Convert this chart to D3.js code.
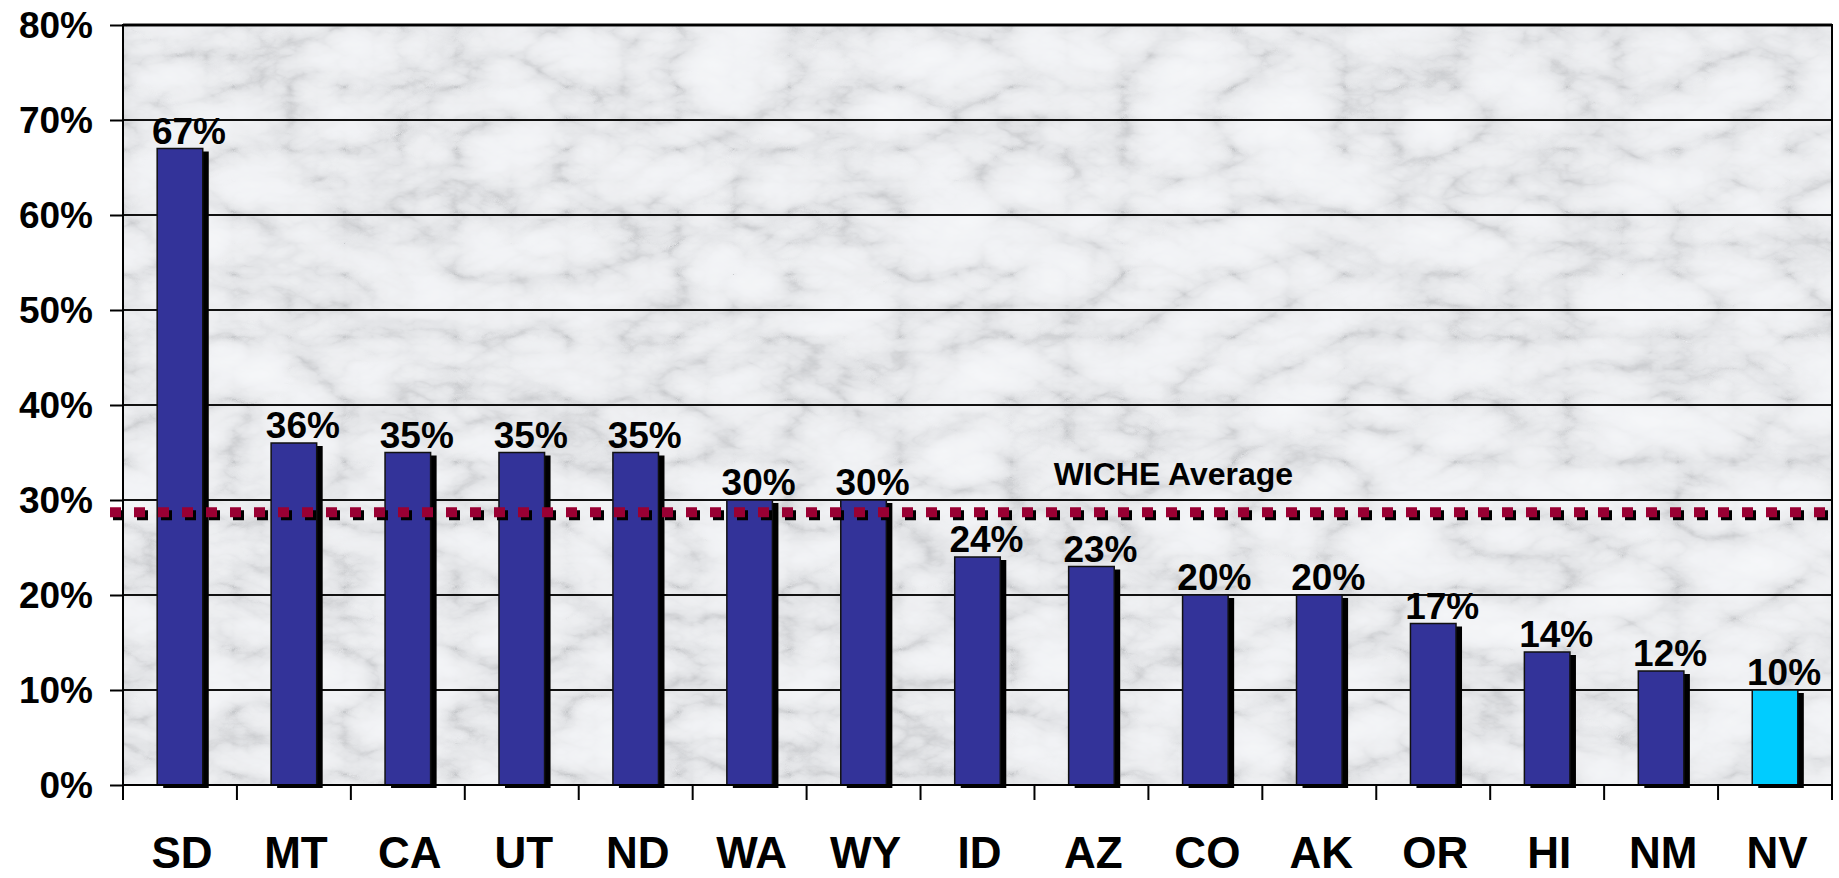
<!DOCTYPE html>
<html>
<head>
<meta charset="utf-8">
<script src="https://cdn.jsdelivr.net/npm/d3@7"></script>
<style>
  body { margin: 0; background: #ffffff; }
  svg { display: block; font-family: "Liberation Sans", Arial, sans-serif; font-weight: bold; }
</style>
</head>
<body>
<svg width="1839" height="878"></svg>
<script>
// chart data
var states = ["SD", "MT", "CA", "UT", "ND", "WA", "WY", "ID", "AZ", "CO", "AK", "OR", "HI", "NM", "NV"];
var shares = [0.67, 0.36, 0.35, 0.35, 0.35, 0.30, 0.30, 0.24, 0.23, 0.20, 0.20, 0.17, 0.14, 0.12, 0.10];
var highlightState = "NV";
var wicheAverage = 0.287;
var wicheLabel = "WICHE Average";
var yTicks = [0, 0.1, 0.2, 0.3, 0.4, 0.5, 0.6, 0.7, 0.8];

document.addEventListener('DOMContentLoaded', function () {
    drawBarChart();
});

function drawBarChart() {
    const svg = d3.select('svg');
    const width = +svg.attr('width');
    const height = +svg.attr('height');
    const margin = { top: 25, bottom: 93, right: 7, left: 123 };
    const innerWidth = width - margin.left - margin.right;
    const innerHeight = height - margin.top - margin.bottom;

    // marble background texture (deterministic noise filter)
    const defs = svg.append('defs');
    const filter = defs.append('filter').attr('id', 'marble')
        .attr('x', 0).attr('y', 0).attr('width', '100%').attr('height', '100%');
    filter.append('feTurbulence')
        .attr('type', 'turbulence')
        .attr('baseFrequency', '0.009 0.016')
        .attr('numOctaves', 5)
        .attr('seed', 7)
        .attr('result', 'noise');
    filter.append('feColorMatrix')
        .attr('type', 'matrix')
        .attr('values', '1 0 0 0 0  1 0 0 0 0  1 0 0 0 0  0 0 0 0 1')
        .attr('result', 'grey');
    const ct = filter.append('feComponentTransfer');
    ct.append('feFuncR').attr('type', 'table').attr('tableValues', '0.58 0.76 0.84 0.88 0.9 0.92 0.93');
    ct.append('feFuncG').attr('type', 'table').attr('tableValues', '0.59 0.77 0.85 0.89 0.91 0.93 0.94');
    ct.append('feFuncB').attr('type', 'table').attr('tableValues', '0.61 0.79 0.87 0.91 0.93 0.95 0.96');

    const xScale = d3.scaleBand()
        .domain(states)
        .range([0, innerWidth])
        .paddingInner(0.6)
        .paddingOuter(0.3);

    const yScale = d3.scaleLinear()
        .domain([0, 0.8])
        .range([innerHeight, 0]);

    const g = svg.append('g')
        .attr('transform', 'translate(' + margin.left + ', ' + margin.top + ')');

    g.append('rect')
        .attr('width', innerWidth)
        .attr('height', innerHeight)
        .attr('fill', '#e4e6ea')
        .attr('filter', 'url(#marble)');

    // gridlines
    g.append('g').selectAll('line')
        .data(yTicks)
        .join('line')
        .attr('x1', 0)
        .attr('x2', innerWidth)
        .attr('y1', d => yScale(d))
        .attr('y2', d => yScale(d))
        .attr('stroke', '#111')
        .attr('stroke-width', d => d === 0.8 ? 3 : 2);

    // plot border
    g.append('rect')
        .attr('width', innerWidth)
        .attr('height', innerHeight)
        .attr('fill', 'none')
        .attr('stroke', '#000')
        .attr('stroke-width', 2);

    // y axis
    const yAxis = d3.axisLeft(yScale)
        .tickValues(yTicks)
        .tickSize(13)
        .tickPadding(17)
        .tickFormat(d3.format('.0%'));
    const yAxisG = g.append('g').call(yAxis);
    yAxisG.select('.domain').remove();
    yAxisG.selectAll('line').attr('stroke', '#000').attr('stroke-width', 2);
    yAxisG.selectAll('text')
        .attr('font-size', 37)
        .attr('font-family', '"Liberation Sans", Arial, sans-serif')
        .attr('font-weight', 'bold')
        .attr('fill', '#000')
        .attr('dy', '0.35em');

    // bar shadows
    g.append('g').selectAll('rect')
        .data(states)
        .join('rect')
        .attr('x', d => xScale(d) + 6)
        .attr('y', (d, i) => yScale(shares[i]) + 3)
        .attr('width', xScale.bandwidth())
        .attr('height', (d, i) => innerHeight - yScale(shares[i]))
        .attr('fill', '#000');

    // bars
    g.append('g').selectAll('rect')
        .data(states)
        .join('rect')
        .attr('x', d => xScale(d))
        .attr('y', (d, i) => yScale(shares[i]))
        .attr('width', xScale.bandwidth())
        .attr('height', (d, i) => innerHeight - yScale(shares[i]))
        .attr('fill', d => d === highlightState ? '#00ccff' : '#333399')
        .attr('stroke', '#111')
        .attr('stroke-width', 1.5);

    // value labels
    g.append('g').selectAll('text')
        .data(states)
        .join('text')
        .attr('x', d => xScale(d) + xScale.bandwidth() / 2 + 9)
        .attr('y', (d, i) => yScale(shares[i]) - 5)
        .attr('text-anchor', 'middle')
        .attr('font-size', 37)
        .attr('fill', '#000')
        .text((d, i) => d3.format('.0%')(shares[i]));

    // WICHE average dotted line, shadow first
    const avgY = yScale(wicheAverage);
    g.append('line')
        .attr('x1', -13 + 3).attr('x2', innerWidth)
        .attr('y1', avgY + 3).attr('y2', avgY + 3)
        .attr('stroke', '#000')
        .attr('stroke-width', 10)
        .attr('stroke-dasharray', '11 13');
    g.append('line')
        .attr('x1', -13).attr('x2', innerWidth)
        .attr('y1', avgY).attr('y2', avgY)
        .attr('stroke', '#990033')
        .attr('stroke-width', 10)
        .attr('stroke-dasharray', '11 13');

    g.append('text')
        .attr('x', xScale('AZ') - 15)
        .attr('y', avgY - 27)
        .attr('font-size', 32)
        .attr('fill', '#000')
        .text(wicheLabel);

    // x axis: ticks between categories
    const step = xScale.step();
    const edges = d3.range(states.length + 1).map(i => i === states.length ? innerWidth : xScale(states[i]) - step * 0.3);
    g.append('g').selectAll('line')
        .data(edges)
        .join('line')
        .attr('x1', d => d).attr('x2', d => d)
        .attr('y1', innerHeight).attr('y2', innerHeight + 15)
        .attr('stroke', '#000')
        .attr('stroke-width', 2);
    g.append('line')
        .attr('x1', 0).attr('x2', innerWidth)
        .attr('y1', innerHeight).attr('y2', innerHeight)
        .attr('stroke', '#000')
        .attr('stroke-width', 2);

    g.append('g').selectAll('text')
        .data(states)
        .join('text')
        .attr('x', d => xScale(d) + xScale.bandwidth() / 2 + 2)
        .attr('y', innerHeight + 83)
        .attr('text-anchor', 'middle')
        .attr('font-size', 44)
        .attr('fill', '#000')
        .text(d => d);
}
</script>
</body>
</html>
